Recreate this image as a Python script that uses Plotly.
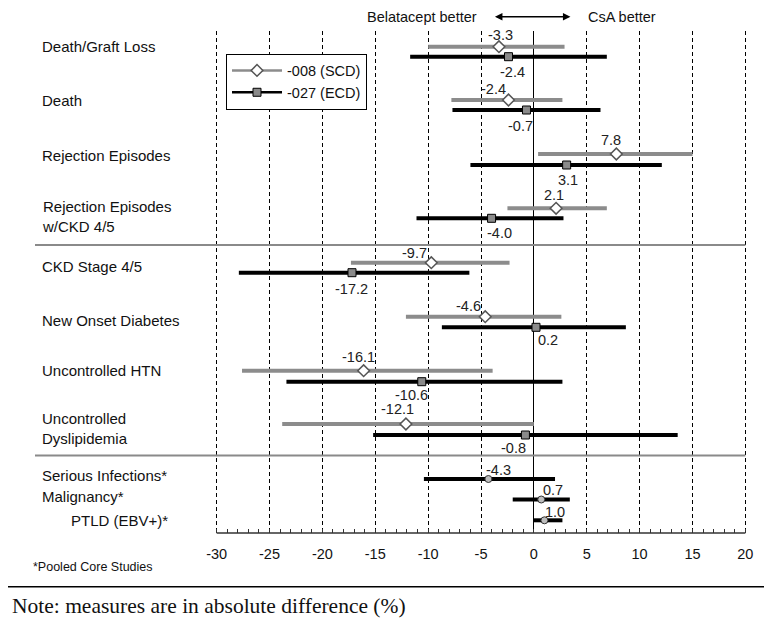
import plotly.graph_objects as go

# ---------------- data ----------------
categories = ["Death/Graft Loss", "Death", "Rejection Episodes",
              "Rejection Episodes<br>w/CKD 4/5", "CKD Stage 4/5",
              "New Onset Diabetes", "Uncontrolled HTN",
              "Uncontrolled<br>Dyslipidemia"]
scd_est = [-3.3, -2.4, 7.8, 2.1, -9.7, -4.6, -16.1, -12.1]
scd_lo = [-10.0, -7.8, 0.4, -2.5, -17.3, -12.1, -27.6, -23.8]
scd_hi = [2.9, 2.7, 15.0, 6.9, -2.3, 2.6, -3.9, 0.0]
ecd_est = [-2.4, -0.7, 3.1, -4.0, -17.2, 0.2, -10.6, -0.8]
ecd_lo = [-11.7, -7.7, -6.0, -11.1, -27.9, -8.7, -23.4, -15.2]
ecd_hi = [6.9, 6.3, 12.1, 2.8, -6.1, 8.7, 2.7, 13.6]

pooled_categories = ["Serious Infections*", "Malignancy*", "PTLD (EBV+)*"]
pooled_est = [-4.3, 0.7, 1.0]
pooled_lo = [-10.4, -2.0, 0.0]
pooled_hi = [2.0, 3.4, 2.7]

x_ticks = [-30, -25, -20, -15, -10, -5, 0, 5, 10, 15, 20]

# ---------------- layout (positions) ----------------
L, W = 206, 534          # plot area left / width (px)
T, PLOT_H = 23, 502      # plot area top / height (px)
PAGE_OFF = 8             # page body margin

scd_y = [15.7, 69.0, 123.0, 177.3, 231.7, 285.7, 339.7, 393.0]
ecd_y = [25.7, 79.0, 134.0, 187.3, 241.7, 296.3, 350.7, 404.0]
pooled_y = [448.0, 468.5, 489.3]
cat_label_y = [15.7, 69.0, 124.0, 185.0, 235.7, 289.0, 339.0, 397.3]
pooled_label_y = [444.0, 465.7, 489.0]
pooled_label_px = [40, 40, 69]
separators_y = [214.0, 424.5]
scd_dx = [1.5, -15, -5, -2, -17, -17, -5, -8]
scd_dy = [-11.7, -10.7, -14, -13, -9.5, -11, -14, -14.7]
ecd_dx = [4, -6, 1, 8, 0, 12, -10.5, -12]
ecd_dy = [15, 16, 15, 14.4, 16.6, 12.5, 12.8, 12.7]
pooled_dx = [10, 12, 11]
pooled_dy = [-9, -10, -8.6]

FONT = "Liberation Sans, Arial, sans-serif"
SCD_COLOR = "#8c8c8c"
ECD_COLOR = "#000000"


def py(v):
    return 1 - v / PLOT_H


def px(page_x):
    return (page_x - PAGE_OFF - L) / W


fig = go.Figure()

# SCD (-008)
fig.add_trace(go.Scatter(
    x=scd_est, y=scd_y, mode="markers", showlegend=False, hoverinfo="skip",
    error_x=dict(type="data", symmetric=False,
                 array=[h - e for h, e in zip(scd_hi, scd_est)],
                 arrayminus=[e - l for e, l in zip(scd_est, scd_lo)],
                 color=SCD_COLOR, thickness=4, width=0),
    marker=dict(symbol="diamond", size=9, color="white",
                line=dict(color="#555555", width=1.5))))

# ECD (-027)
fig.add_trace(go.Scatter(
    x=ecd_est, y=ecd_y, mode="markers", showlegend=False, hoverinfo="skip",
    error_x=dict(type="data", symmetric=False,
                 array=[h - e for h, e in zip(ecd_hi, ecd_est)],
                 arrayminus=[e - l for e, l in zip(ecd_est, ecd_lo)],
                 color=ECD_COLOR, thickness=4, width=0),
    marker=dict(symbol="square", size=8, color="#8a8a8a",
                line=dict(color="#000000", width=1))))

# pooled
fig.add_trace(go.Scatter(
    x=pooled_est, y=pooled_y, mode="markers", showlegend=False, hoverinfo="skip",
    error_x=dict(type="data", symmetric=False,
                 array=[h - e for h, e in zip(pooled_hi, pooled_est)],
                 arrayminus=[e - l for e, l in zip(pooled_est, pooled_lo)],
                 color=ECD_COLOR, thickness=4, width=0),
    marker=dict(symbol="circle", size=7, color="#bdbdbd",
                line=dict(color="#333333", width=1))))

# legend entries
fig.add_trace(go.Scatter(x=[None], y=[None], mode="lines+markers", name="-008 (SCD)",
                         line=dict(color=SCD_COLOR, width=2.5),
                         marker=dict(symbol="diamond", size=9, color="white",
                                     line=dict(color="#555555", width=1.5))))
fig.add_trace(go.Scatter(x=[None], y=[None], mode="lines+markers", name="-027 (ECD)",
                         line=dict(color=ECD_COLOR, width=2.5),
                         marker=dict(symbol="square", size=8, color="#8a8a8a",
                                     line=dict(color="#000000", width=1))))

ann = []
lab_font = dict(family=FONT, size=14.5, color="#222222")
for i, c in enumerate(categories):
    ann.append(dict(x=px(40), xref="paper", y=py(cat_label_y[i]), yref="paper",
                    text=c, showarrow=False, xanchor="left", yanchor="middle",
                    align="left", font=dict(family=FONT, size=15, color="#111111")))
    ann.append(dict(x=scd_est[i], y=scd_y[i], xref="x", yref="y",
                    text=f"{scd_est[i]:.1f}", showarrow=False,
                    xshift=scd_dx[i], yshift=-scd_dy[i], font=lab_font))
    ann.append(dict(x=ecd_est[i], y=ecd_y[i], xref="x", yref="y",
                    text=f"{ecd_est[i]:.1f}", showarrow=False,
                    xshift=ecd_dx[i], yshift=-ecd_dy[i], font=lab_font))
for i, c in enumerate(pooled_categories):
    ann.append(dict(x=px(pooled_label_px[i]), xref="paper", y=py(pooled_label_y[i]),
                    yref="paper", text=c, showarrow=False, xanchor="left",
                    yanchor="middle", font=dict(family=FONT, size=15, color="#111111")))
    ann.append(dict(x=pooled_est[i], y=pooled_y[i], xref="x", yref="y",
                    text=f"{pooled_est[i]:.1f}", showarrow=False,
                    xshift=pooled_dx[i], yshift=-pooled_dy[i], font=lab_font))

# header
ann.append(dict(x=-5.15, xref="x", y=py(-14.3), yref="paper", text="Belatacept better",
                showarrow=False, xanchor="right", yanchor="middle",
                font=dict(family=FONT, size=14.5, color="#111111")))
ann.append(dict(x=4.9, xref="x", y=py(-14.3), yref="paper", text="CsA better",
                showarrow=False, xanchor="left", yanchor="middle",
                font=dict(family=FONT, size=14.5, color="#111111")))
ann.append(dict(x=3.46, xref="x", y=py(-14.3), yref="paper", text="",
                showarrow=True, ax=-77, ay=0, arrowside="end+start",
                arrowhead=2, arrowsize=1, arrowwidth=1.5, arrowcolor="#000000"))
# footnotes
ann.append(dict(x=px(30.5), xref="paper", y=py(535.7), yref="paper",
                text="*Pooled Core Studies", showarrow=False, xanchor="left",
                yanchor="middle", font=dict(family=FONT, size=12.5, color="#111111")))
ann.append(dict(x=px(10), xref="paper", y=py(575.0), yref="paper",
                text="Note: measures are in absolute difference (%)", showarrow=False,
                xanchor="left", yanchor="middle",
                font=dict(family="Liberation Serif, Times New Roman, serif", size=21.5,
                          color="#111111")))

shapes = []
for s in separators_y:
    shapes.append(dict(type="line", xref="x", yref="paper", x0=-30, x1=20,
                       y0=py(s), y1=py(s), line=dict(color="#8a8a8a", width=2.2),
                       layer="above"))
    shapes.append(dict(type="line", xref="paper", yref="paper", x0=px(35), x1=px(217),
                       y0=py(s), y1=py(s), line=dict(color="#8a8a8a", width=2.2)))
shapes.append(dict(type="line", xref="paper", yref="paper", x0=px(0), x1=px(780),
                   y0=py(555.7), y1=py(555.7), line=dict(color="#000000", width=1.5)))

fig.update_layout(
    width=772, height=618,
    margin=dict(l=L, r=772 - L - W, t=T, b=618 - T - PLOT_H),
    paper_bgcolor="white", plot_bgcolor="white",
    font=dict(family=FONT, size=14.5, color="#111111"),
    annotations=ann, shapes=shapes,
    legend=dict(x=px(226), y=py(22.5), xanchor="left", yanchor="top",
                bgcolor="white", bordercolor="#000000", borderwidth=1,
                itemwidth=50,
                font=dict(family=FONT, size=14.5, color="#111111"),
                tracegroupgap=0),
    xaxis=dict(range=[-30.25, 20.25], tickvals=x_ticks, ticktext=[str(t) for t in x_ticks],
               showgrid=True, gridcolor="#000000", gridwidth=1, griddash="4px,3px",
               zeroline=True, zerolinecolor="#000000", zerolinewidth=1.2,
               showline=False,
               ticks="inside", ticklen=4, tickcolor="#333333", tickwidth=1.2,
               minor=dict(dtick=1, ticks="inside", ticklen=4, tickcolor="#333333",
                          tickwidth=1.2, showgrid=False),
               ticklabelstandoff=10,
               tickfont=dict(family=FONT, size=14.5, color="#111111"),
               fixedrange=True),
    yaxis=dict(range=[PLOT_H, 0], visible=False, showgrid=False, zeroline=False,
               fixedrange=True),
)
# axis baseline spanning exactly -30 .. 20
fig.add_shape(type="line", xref="x", yref="paper", x0=-30, x1=20, y0=0, y1=0,
              line=dict(color="#333333", width=1.5))

fig.write_html("out.html")
